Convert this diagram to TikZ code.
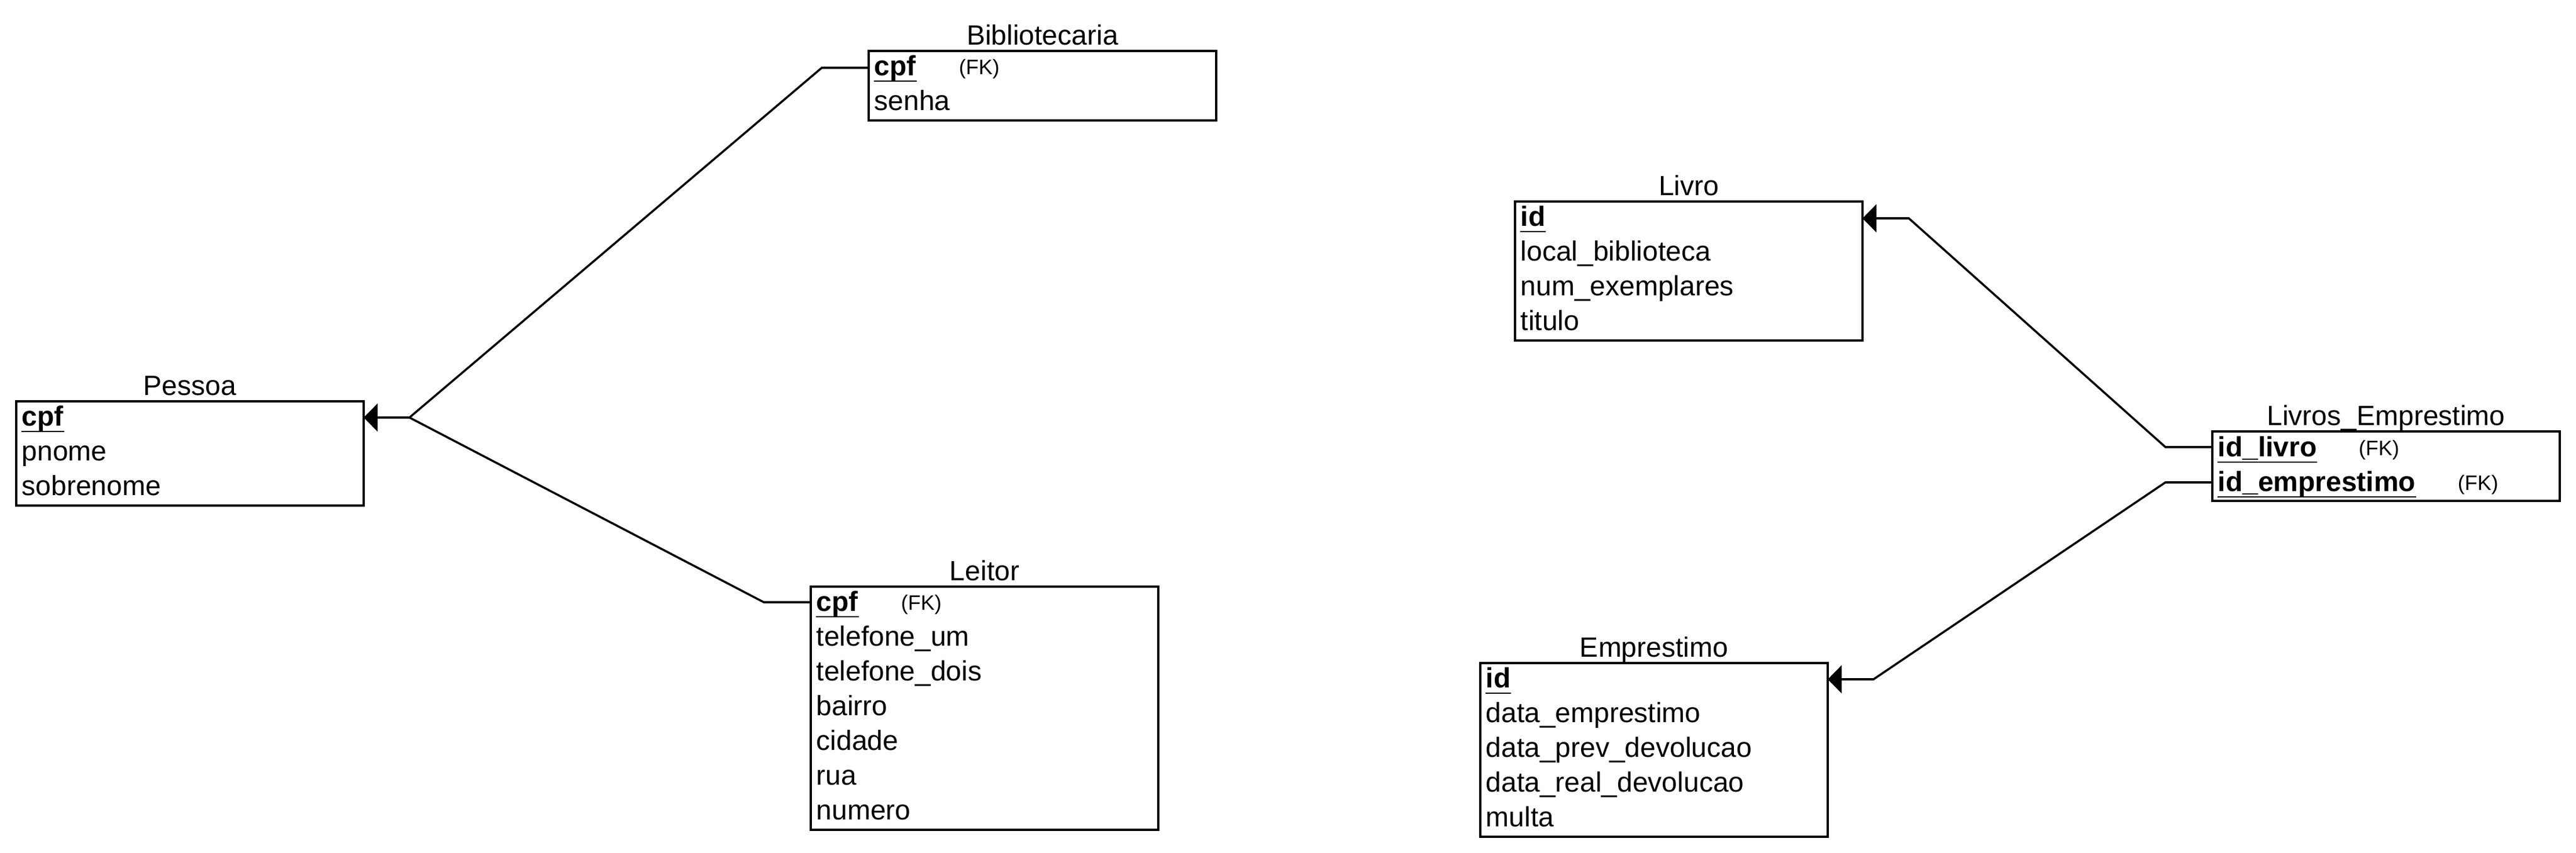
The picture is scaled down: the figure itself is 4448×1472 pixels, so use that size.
\documentclass[tikz,border=0pt]{standalone}
\usepackage{fontspec}
\setmainfont{Liberation Sans}
\usetikzlibrary{arrows.meta}
\begin{document}
\begin{tikzpicture}[x=0.25pt,y=-0.25pt,
 tbl/.style={draw, line width=1pt, anchor=north west, inner sep=0pt, outer sep=0pt, minimum width=150pt},
 ttl/.style={anchor=base, inner sep=0pt, font=\fontsize{12}{14}\selectfont},
 attr/.style={anchor=base west, inner sep=0pt, font=\fontsize{12}{14}\selectfont},
 keyattr/.style={anchor=base west, inner sep=0pt, font=\fontsize{12}{14}\selectfont\bfseries},
 fknote/.style={anchor=base west, inner sep=0pt, font=\fontsize{9}{10}\selectfont},
 conn/.style={line width=0.9pt, line join=miter},
 ulin/.style={line width=0.65pt},
 tip/.style={-{Triangle[length=6pt,width=12pt]}}]
\useasboundingbox (0,0) rectangle (4448,1472);

% ---------- Pessoa ----------
\node[tbl, minimum height=45pt] (pessoa) at (28,693) {};
\node[ttl] (pessoaT) at (328,682) {Pessoa};
\node[keyattr] (pessoaK) at (37,735) {cpf};
\node[attr] (pessoa2) at (37,795) {pnome};
\node[attr] (pessoa3) at (37,855) {sobrenome};
\draw[ulin] ([yshift=-2.5pt]pessoaK.base west) -- ([yshift=-2.5pt]pessoaK.base east);

% ---------- Bibliotecaria ----------
\node[tbl, minimum height=30pt] (bib) at (1500,88) {};
\node[ttl] (bibT) at (1800,77) {Bibliotecaria};
\node[keyattr] (bibK) at (1509,130) {cpf};
\node[fknote] (bibF) at (1655,128) {(FK)};
\node[attr] (bib2) at (1509,190) {senha};
\draw[ulin] ([yshift=-2.5pt]bibK.base west) -- ([yshift=-2.5pt]bibK.base east);

% ---------- Leitor ----------
\node[tbl, minimum height=105pt] (leitor) at (1400,1013) {};
\node[ttl] (leitorT) at (1700,1002) {Leitor};
\node[keyattr] (leitorK) at (1409,1055) {cpf};
\node[fknote] (leitorF) at (1555,1053) {(FK)};
\node[attr] (leitor2) at (1409,1115) {telefone\_um};
\node[attr] (leitor3) at (1409,1175) {telefone\_dois};
\node[attr] (leitor4) at (1409,1235) {bairro};
\node[attr] (leitor5) at (1409,1295) {cidade};
\node[attr] (leitor6) at (1409,1355) {rua};
\node[attr] (leitor7) at (1409,1415) {numero};
\draw[ulin] ([yshift=-2.5pt]leitorK.base west) -- ([yshift=-2.5pt]leitorK.base east);

% ---------- Livro ----------
\node[tbl, minimum height=60pt] (livro) at (2616,348) {};
\node[ttl] (livroT) at (2916,337) {Livro};
\node[keyattr] (livroK) at (2625,390) {id};
\node[attr] (livro2) at (2625,450) {local\_biblioteca};
\node[attr] (livro3) at (2625,510) {num\_exemplares};
\node[attr] (livro4) at (2625,570) {titulo};
\draw[ulin] ([yshift=-2.5pt]livroK.base west) -- ([yshift=-2.5pt]livroK.base east);

% ---------- Livros_Emprestimo ----------
\node[tbl, minimum height=30pt] (le) at (3820,745) {};
\node[ttl] (leT) at (4120,734) {Livros\_Emprestimo};
\node[keyattr] (leK1) at (3829,788) {id\_livro};
\node[fknote] (leF1) at (4072,786) {(FK)};
\node[keyattr] (leK2) at (3829,848) {id\_emprestimo};
\node[fknote] (leF2) at (4243,846) {(FK)};
\draw[ulin] ([yshift=-2.5pt]leK1.base west) -- ([yshift=-2.5pt]leK1.base east);
\draw[ulin] ([yshift=-2.5pt]leK2.base west) -- ([yshift=-2.5pt]leK2.base east);

% ---------- Emprestimo ----------
\node[tbl, minimum height=75pt] (emp) at (2556,1145) {};
\node[ttl] (empT) at (2856,1134) {Emprestimo};
\node[keyattr] (empK) at (2565,1187) {id};
\node[attr] (emp2) at (2565,1247) {data\_emprestimo};
\node[attr] (emp3) at (2565,1307) {data\_prev\_devolucao};
\node[attr] (emp4) at (2565,1367) {data\_real\_devolucao};
\node[attr] (emp5) at (2565,1427) {multa};
\draw[ulin] ([yshift=-2.5pt]empK.base west) -- ([yshift=-2.5pt]empK.base east);

% ---------- connectors ----------
\coordinate (c1) at (1419,117);
\coordinate (j1) at (707,721);
\coordinate (c2) at (1319,1040);
\coordinate (c3) at (3739,772);
\coordinate (c4) at (3296,377);
\coordinate (c5) at (3739,833);
\coordinate (c6) at (3235,1173);

\draw[conn, tip] ([yshift=-7.25pt]bib.north west) -- (c1) -- (j1) -- ([yshift=-7pt]pessoa.north east);
\draw[conn] ([yshift=-6.75pt]leitor.north west) -- (c2) -- (j1);
\draw[conn, tip] ([yshift=-6.75pt]le.north west) -- (c3) -- (c4) -- ([yshift=-7.25pt]livro.north east);
\draw[conn, tip] ([yshift=-22pt]le.north west) -- (c5) -- (c6) -- ([yshift=-7pt]emp.north east);
\end{tikzpicture}
\end{document}
